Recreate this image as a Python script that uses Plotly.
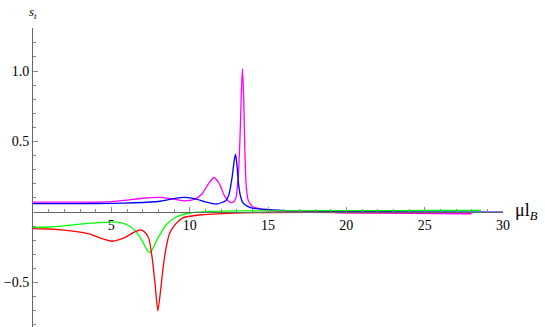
import plotly.graph_objects as go

# magenta curve
x_mag = [0, 2, 4, 5, 6, 7, 8, 8.8, 9.6, 10.3, 10.8, 11.2, 11.55, 11.9, 12.2, 12.5, 12.75,
         12.95, 13.1, 13.22, 13.3, 13.37, 13.45, 13.52, 13.6, 13.72, 14.0, 14.7, 16, 18, 20, 24, 28]
y_mag = [0.070, 0.070, 0.071, 0.074, 0.085, 0.098, 0.104, 0.095, 0.080, 0.090, 0.13, 0.20, 0.245,
         0.20, 0.12, 0.075, 0.068, 0.10, 0.25, 0.55, 0.85, 1.015, 0.80, 0.45, 0.20, 0.09, 0.04,
         0.018, 0.005, 0.0, -0.005, -0.010, -0.012]

# blue curve
x_blue = [0, 3, 5, 6.5, 8, 9, 9.6, 10.3, 11, 11.7, 12.3, 12.5, 12.7, 12.85, 12.93, 13.02, 13.12,
          13.25, 13.4, 13.7, 14.0, 15.3, 17, 20, 25, 30]
y_blue = [0.060, 0.060, 0.062, 0.066, 0.075, 0.095, 0.104, 0.095, 0.072, 0.057, 0.08, 0.12, 0.24,
          0.37, 0.41, 0.33, 0.20, 0.11, 0.065, 0.040, 0.028, 0.016, 0.008, 0.004, 0.001, 0.0]

# green curve
x_green = [0, 1, 2, 3, 4, 5, 5.4, 6, 6.5, 7.0, 7.25, 7.44, 7.65, 7.9, 8.1, 8.5, 9.14, 9.78,
           10.5, 11.5, 13, 15, 20, 25, 28.6]
y_green = [-0.108, -0.106, -0.098, -0.086, -0.077, -0.072, -0.072, -0.09, -0.13, -0.21, -0.265,
           -0.286, -0.26, -0.20, -0.16, -0.09, -0.035, -0.012, 0.0, 0.005, 0.008, 0.009, 0.010,
           0.011, 0.011]

# red curve
x_red = [0, 1, 2, 3, 3.6, 4.3, 5.04, 5.5, 6.0, 6.5, 6.9, 7.2, 7.4, 7.6, 7.8, 7.97, 8.15, 8.3,
         8.5, 8.72, 9.14, 9.6, 10.6, 12.8, 15, 20, 25.8]
y_red = [-0.117, -0.120, -0.128, -0.142, -0.155, -0.185, -0.207, -0.196, -0.172, -0.140, -0.127,
         -0.150, -0.19, -0.32, -0.52, -0.70, -0.55, -0.40, -0.25, -0.15, -0.08, -0.04, -0.021,
         -0.007, -0.003, -0.003, -0.004]

x_ticks = [5, 10, 15, 20, 25, 30]
y_ticks = [-0.5, 0.5, 1.0]
y_ticktext = ["\u22120.5", "0.5", "1.0"]

ymin, ymax = -0.815, 1.305
serif = "Liberation Serif, serif"

fig = go.Figure()
for xs, ys, col in [(x_mag, y_mag, "#ff00ff"), (x_blue, y_blue, "#0000ff"),
                    (x_green, y_green, "#00ff00"), (x_red, y_red, "#ff0000")]:
    fig.add_trace(go.Scatter(x=xs, y=ys, mode="lines", line=dict(color=col, width=1.3, shape="spline", smoothing=0.6),
                             showlegend=False, hoverinfo="skip"))

fig.update_layout(
    width=545, height=327,
    margin=dict(l=33, r=42, t=28, b=0, autoexpand=False),
    plot_bgcolor="white", paper_bgcolor="white",
    font=dict(family=serif, size=14, color="black"),
    xaxis=dict(range=[0, 30], anchor="free", position=(0 - ymin) / (ymax - ymin),
               showline=True, linecolor="#666", linewidth=1, showgrid=False, zeroline=False,
               ticks="inside", ticklen=5, tickcolor="#888", tickvals=x_ticks,
               tickfont=dict(family=serif, size=14),
               minor=dict(ticks="inside", dtick=1, tick0=0, ticklen=3, tickcolor="#888", showgrid=False)),
    yaxis=dict(range=[ymin, ymax], showline=True, linecolor="#666", linewidth=1,
               showgrid=False, zeroline=False, ticks="inside", ticklen=5, tickcolor="#888",
               tickvals=y_ticks, ticktext=y_ticktext, tickfont=dict(family=serif, size=14),
               minor=dict(ticks="inside", dtick=0.1, tick0=0, ticklen=3, tickcolor="#888", showgrid=False)),
    annotations=[
        dict(text="<i>s<sub>t</sub></i>", x=0, y=ymax, xref="x", yref="y", xanchor="center",
             yanchor="bottom", showarrow=False, font=dict(family=serif, size=13), xshift=0, yshift=5),
        dict(text="\u03bcl<sub><i>B</i></sub>", x=30, y=0, xref="x", yref="y", xanchor="left",
             yanchor="middle", showarrow=False, font=dict(family=serif, size=18), xshift=10, yshift=1),
    ],
)

# drop the default 8px body margin so the figure sits at the page corner
fig.write_html("out.html", config={"displayModeBar": False},
               post_script="document.body.style.margin='0px';")
